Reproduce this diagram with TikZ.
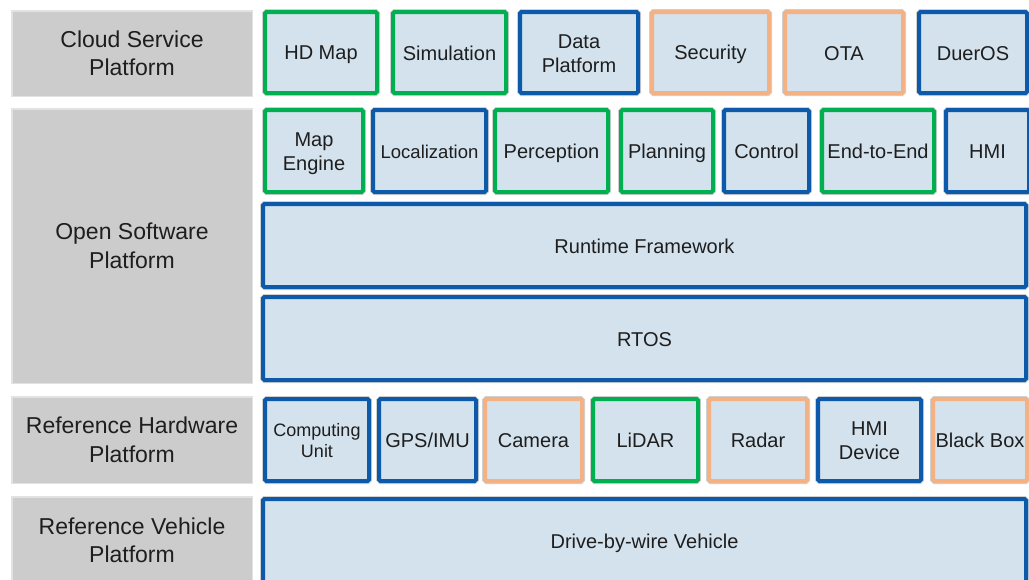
\documentclass[tikz,border=0pt]{standalone}
\usepackage{fontspec}
\setmainfont{Liberation Sans}

\definecolor{tierblue}{RGB}{14,90,170}
\definecolor{tiergreen}{RGB}{0,176,80}
\definecolor{tierorange}{RGB}{244,177,131}
\definecolor{cellfill}{RGB}{211,226,237}
\definecolor{layerfill}{RGB}{204,204,204}
\definecolor{layeredge}{RGB}{226,226,226}
\definecolor{rim}{RGB}{208,208,208}
\definecolor{ink}{RGB}{30,30,30}

% line strut giving every text line the same height and depth
\newcommand\cst{\rule[-0.1425em]{0pt}{1.0575em}}
\newcommand\brk{\\\cst}

\tikzset{
  cell/.style={fill=cellfill, line width=4pt, rounded corners=1.5pt,
    inner sep=0pt, align=center, text=ink,
    font=\fontsize{20}{24}\selectfont,
    preaction={draw=rim, line width=6pt}},
  small/.style={font=\fontsize{18}{21.6}\selectfont},
  layer/.style={fill=layerfill, draw=layeredge, line width=1.5pt,
    inner sep=0pt, align=center, text=ink,
    font=\fontsize{23}{28.5}\selectfont},
}

% component cell: name, x1, y1, x2, y2 (outer edges), style, text
\newcommand\cellbox[7]{%
  \node[cell, #6, minimum width={#4-#2-4}, minimum height={#5-#3-4}]
    (#1) at ({(#2+#4)/2},{(#3+#5)/2}) {\cst #7};}
% platform layer label: name, x1, y1, x2, y2, text
\newcommand\layerbox[6]{%
  \node[layer, minimum width={#4-#2-1.5}, minimum height={#5-#3-1.5}]
    (#1) at ({(#2+#4)/2},{(#3+#5)/2}) {#6};}

\begin{document}
\begin{tikzpicture}[x=1pt, y=-1pt]
\useasboundingbox (0,0) rectangle (1029,579);

% platform layers
\layerbox{cloud}{11}{10}{253}{97}{Cloud Service\\Platform}
\layerbox{software}{11}{108}{253}{384}{Open Software\\Platform}
\layerbox{hardware}{11}{396}{253}{484}{Reference Hardware\\Platform}
\layerbox{vehicle}{11}{496}{253}{585}{Reference Vehicle\\Platform}

% cloud service components
\cellbox{hdmap}{263}{10}{379}{95}{draw=tiergreen}{HD Map}
\cellbox{sim}{391}{10}{508}{95}{draw=tiergreen}{Simulation}
\cellbox{data}{518}{10}{640}{95}{draw=tierblue}{Data\brk Platform}
\cellbox{security}{650}{10}{771}{95}{draw=tierorange}{Security}
\cellbox{ota}{783}{10}{905}{95}{draw=tierorange}{OTA}
\cellbox{dueros}{917}{10}{1029}{95}{draw=tierblue}{DuerOS}

% open software modules
\cellbox{mapengine}{263}{108}{365}{194}{draw=tiergreen}{Map\brk Engine}
\cellbox{localization}{371}{108}{488}{194}{draw=tierblue, font=\fontsize{18.5}{22}\selectfont}{Localization}
\cellbox{perception}{493}{108}{610}{194}{draw=tiergreen}{Perception}
\cellbox{planning}{619}{108}{715}{194}{draw=tiergreen}{Planning}
\cellbox{control}{722}{108}{811}{194}{draw=tierblue}{Control}
\cellbox{e2e}{820}{108}{936}{194}{draw=tiergreen}{End-to-End}
\cellbox{hmi}{944}{108}{1031}{194}{draw=tierblue}{HMI}
\cellbox{runtime}{261}{202}{1028}{289}{draw=tierblue}{Runtime Framework}
\cellbox{rtos}{261}{295}{1028}{382}{draw=tierblue}{RTOS}

% reference hardware
\cellbox{computing}{263}{397}{371}{483}{draw=tierblue, small}{Computing\brk Unit}
\cellbox{gps}{377}{397}{478}{483}{draw=tierblue}{GPS/IMU}
\cellbox{camera}{483}{397}{584}{483}{draw=tierorange}{Camera}
\cellbox{lidar}{591}{397}{700}{483}{draw=tiergreen}{LiDAR}
\cellbox{radar}{707}{397}{809}{483}{draw=tierorange}{Radar}
\cellbox{hmidevice}{816}{397}{923}{483}{draw=tierblue}{HMI\brk Device}
\cellbox{blackbox}{931}{397}{1029}{483}{draw=tierorange}{Black Box}

% reference vehicle
\cellbox{dbw}{261}{497}{1028}{586}{draw=tierblue}{Drive-by-wire Vehicle}
\end{tikzpicture}
\end{document}
